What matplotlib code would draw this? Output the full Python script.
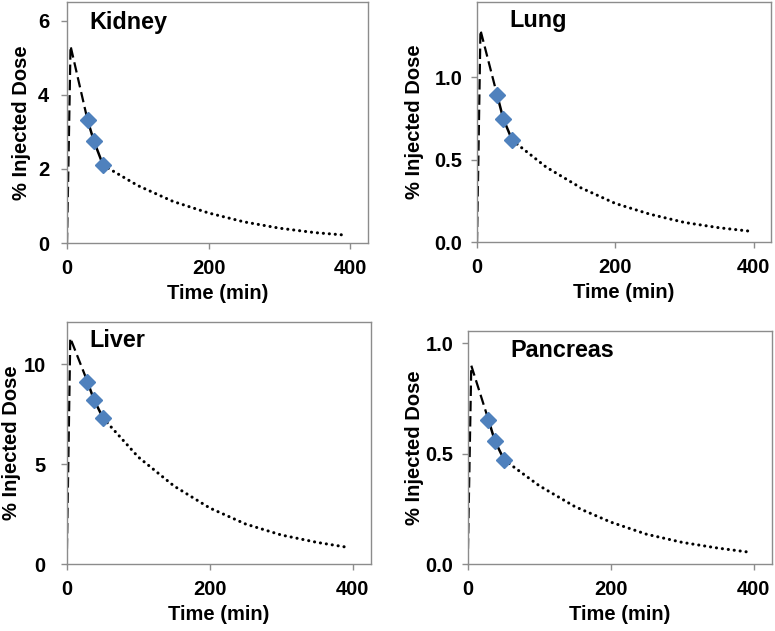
import matplotlib
matplotlib.use("Agg")
import matplotlib.pyplot as plt

plt.rcParams['font.family'] = ['Liberation Sans', 'DejaVu Sans']
plt.rcParams['font.weight'] = 'bold'
plt.rcParams['lines.scale_dashes'] = False

organs = ["Kidney", "Lung", "Liver", "Pancreas"]

# early phase (dashed): start, peak, first measurement
rise_t = [0, 5, 29]
kidney_rise = [0, 5.32, 3.32]
lung_rise = [0, 1.284, 0.893]
liver_rise = [0, 11.3, 9.12]
pancreas_rise = [0, 0.90, 0.654]

# measured points (diamonds, solid line)
meas_t = [29, 38, 51]
kidney_meas = [3.32, 2.75, 2.10]
lung_meas = [0.893, 0.747, 0.617]
liver_meas = [9.12, 8.22, 7.29]
pancreas_meas = [0.654, 0.558, 0.472]

# late phase (dotted)
fit_t = [51, 100, 150, 200, 250, 300, 350, 395]
kidney_fit = [2.10, 1.55, 1.12, 0.81, 0.57, 0.40, 0.28, 0.21]
lung_fit = [0.617, 0.455, 0.33, 0.235, 0.17, 0.12, 0.088, 0.067]
liver_fit = [7.29, 5.35, 3.9, 2.8, 2.0, 1.45, 1.08, 0.82]
pancreas_fit = [0.472, 0.355, 0.26, 0.19, 0.135, 0.098, 0.072, 0.053]

x_ticks = [0, 200, 400]
kidney_yticks = [0, 2, 4, 6]
lung_yticks = [0.0, 0.5, 1.0]
liver_yticks = [0, 5, 10]
pancreas_yticks = [0.0, 0.5, 1.0]

panels = [
    ("Kidney", kidney_rise, kidney_meas, kidney_fit, kidney_yticks, "{:.0f}", 6.506,
     [67, 368, 2, 243], (0.073, 0.89), 8.9, -0.12),
    ("Lung", lung_rise, lung_meas, lung_fit, lung_yticks, "{:.1f}", 1.454,
     [477, 771, 2, 242.3], (0.109, 0.897), 6.5, -0.18),
    ("Liver", liver_rise, liver_meas, liver_fit, liver_yticks, "{:.0f}", 12.1,
     [66.7, 370.7, 322, 564], (0.074, 0.895), 11.0, -0.15),
    ("Pancreas", pancreas_rise, pancreas_meas, pancreas_fit, pancreas_yticks, "{:.1f}", 1.058,
     [467.7, 771.7, 330.7, 564], (0.139, 0.889), 6.3, -0.143),
]

W, H = 775, 631
fig = plt.figure(figsize=(W / 100, H / 100), dpi=100)
frame_col = '#8c8c8c'
marker_col = '#4f81bd'

for name, rise, meas, fit, yt, fmt, ytop, (l, r, t, b), (tx, ty), ypad, ylx in panels:
    ax = fig.add_axes([l / W, (H - b) / H, (r - l) / W, (b - t) / H])
    ax.plot(rise_t, rise, color='black', lw=1.6, linestyle=(0, (7.5, 3.5)))
    ax.plot(meas_t, meas, color='black', lw=1.8, solid_capstyle='round')
    ax.plot(fit_t, fit, color='black', lw=2.2, linestyle=(0, (0.1, 4.2)),
            dash_capstyle='round')
    ax.plot(meas_t, meas, linestyle='none', marker='D', ms=8,
            color=marker_col, mec=marker_col, zorder=5)
    ax.set_xlim(0, 425)
    ax.set_ylim(0, ytop)
    ax.set_xticks(x_ticks)
    ax.set_xticklabels([str(v) for v in x_ticks])
    ax.set_yticks(yt)
    ax.set_yticklabels([fmt.format(v) for v in yt])
    for s in ax.spines.values():
        s.set_color(frame_col)
        s.set_linewidth(1.0)
    ax.tick_params(axis='both', direction='out', length=4, width=1,
                   color=frame_col, labelsize=14.5)
    ax.tick_params(axis='x', pad=7.5)
    ax.tick_params(axis='y', pad=ypad)
    for lab in ax.get_xticklabels() + ax.get_yticklabels():
        lab.set_fontweight('bold')
    ax.set_xlabel("Time (min)", fontsize=14.5, fontweight='bold', labelpad=4)
    ax.set_ylabel("% Injected Dose", fontsize=14.5, fontweight='bold')
    ax.yaxis.set_label_coords(ylx, 0.5)
    ax.text(tx, ty, name, transform=ax.transAxes, fontsize=16.8,
            fontweight='bold', ha='left', va='baseline')

fig.savefig("out.png", dpi=100)
